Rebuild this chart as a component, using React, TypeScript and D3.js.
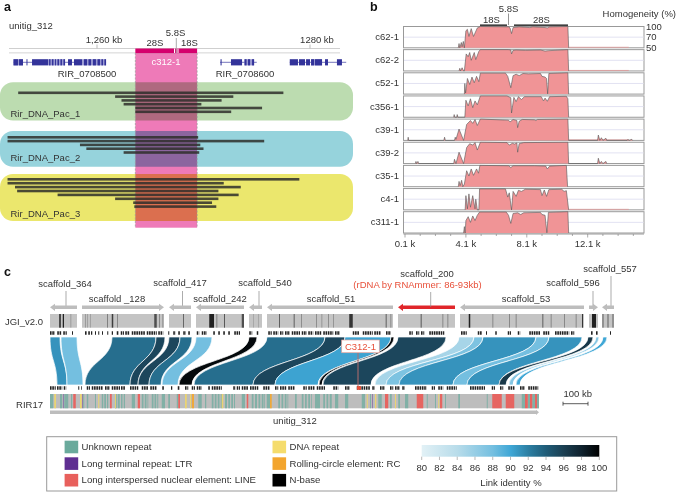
import React from 'react';
import * as d3 from 'd3';

// panel a: reads and genes, all positions in kb on unitig_312
const readsPac1 = [[1252.6, 1277.5], [1261.7, 1272.8], [1262.3, 1271.7], [1262.5, 1269.8], [1263.6, 1275.5], [1263.6, 1272.6]];
const readsPac2 = [[1251.6, 1269.5], [1251.6, 1275.7], [1258.4, 1269.7], [1259, 1270], [1262.5, 1269.6]];
const readsPac3 = [[1251.6, 1279], [1251.6, 1271.9], [1252.3, 1273.5], [1252.5, 1271.4], [1256.3, 1273.3], [1261.7, 1271.4], [1263.4, 1270.8], [1263.5, 1271.2]];
const rdnaSpan = [1263.6, 1269.4];
const geneLines = [[1252.16, 1260.85], [1271.55, 1275], [1278.1, 1283.4]];
const geneShade = [[1252.16, 1253.05], [1255.4, 1257], [1258.6, 1260.85], [1273.85, 1274.75], [1280.1, 1281.13]];
const geneExons = [
  [1252.16, 1252.58], [1252.68, 1253.05], [1253.38, 1253.47], [1253.9, 1255.4], [1255.5, 1255.63], [1255.77, 1255.91],
  [1256.06, 1256.15], [1256.29, 1256.43], [1256.57, 1256.71], [1256.85, 1257], [1257.28, 1257.65], [1257.84, 1258.59],
  [1258.78, 1259.06], [1259.2, 1259.44], [1259.62, 1259.9], [1260.05, 1260.28], [1260.42, 1260.56], [1260.7, 1260.85],
  [1271.6, 1271.7], [1272.58, 1273.62], [1273.85, 1274.04], [1274.18, 1274.37], [1274.56, 1274.75],
  [1278.1, 1278.87], [1278.97, 1279.53], [1279.63, 1280], [1280.1, 1280.38], [1280.47, 1281.13], [1281.41, 1281.69], [1282.53, 1283],
];

// panel b: homogeneity profiles, [position k, percent]
const rowNames = ['c62-1', 'c62-2', 'c52-1', 'c356-1', 'c39-1', 'c39-2', 'c35-1', 'c4-1', 'c311-1'];
const c62_1 = [[3.6, 50], [3.65, 58], [3.7, 50], [3.8, 60], [3.85, 52], [3.93, 62], [4, 50], [4.1, 88], [4.2, 92], [4.3, 72], [4.45, 94], [4.6, 72], [4.85, 96], [5.05, 100], [6.9, 99], [7, 96], [7.1, 80], [7.2, 97], [7.6, 99], [8.3, 97], [8.5, 99], [9.3, 97], [9.45, 96], [9.6, 99], [10.8, 100], [10.85, 50]];
const c62_2 = [[3.65, 50], [3.7, 55], [3.75, 50], [3.85, 56], [3.95, 50], [4, 50], [4.12, 88], [4.25, 80], [4.35, 92], [4.45, 70], [4.65, 92], [4.75, 72], [4.95, 95], [5.05, 100], [6.9, 100], [7.05, 99], [7.1, 88], [7.2, 98], [7.4, 99], [8, 98], [9, 99], [9.3, 96], [9.5, 97], [10.8, 100], [10.85, 50]];
const c52_1 = [[4, 50], [4.03, 70], [4.08, 52], [4.2, 84], [4.35, 68], [4.5, 88], [4.65, 72], [4.8, 90], [4.95, 75], [5.05, 99], [6.7, 99], [6.85, 90], [7.05, 62], [7.2, 92], [7.4, 96], [7.6, 92], [7.85, 98], [8.2, 97], [9, 98], [9.1, 90], [9.3, 88], [9.4, 84], [9.47, 50.5], [9.55, 98], [10.8, 100], [10.85, 50]];
const c356_1 = [[3.3, 50], [3.33, 55], [3.37, 50], [3.5, 50], [3.53, 55], [3.57, 50], [4.03, 50], [4.1, 88], [4.25, 72], [4.4, 92], [4.55, 68], [4.7, 86], [4.85, 75], [5.05, 100], [6.8, 100], [7.05, 95], [7.1, 58], [7.25, 96], [7.4, 84], [7.55, 98], [7.75, 90], [7.95, 98], [9.05, 98], [9.2, 86], [9.3, 94], [9.45, 85], [9.6, 98], [10.7, 99], [10.8, 92], [10.85, 50]];
const c39_1 = [[0.28, 50], [0.31, 56], [0.34, 50], [2.65, 50], [2.7, 56], [2.75, 50], [3.35, 50], [3.4, 56], [3.45, 52], [3.65, 72], [3.95, 50], [4.15, 85], [4.4, 96], [4.55, 88], [4.7, 99], [4.85, 82], [5.05, 100], [6.9, 97], [7, 92], [7.2, 99], [7.45, 96], [7.5, 76], [7.6, 94], [7.8, 99], [8.6, 98], [8.7, 96], [8.8, 99], [10.8, 100], [10.85, 50], [12.75, 50], [12.8, 60], [12.9, 50], [13, 55], [13.1, 50], [13.3, 54], [13.35, 50], [14.7, 50], [14.75, 52], [14.8, 50], [15, 52], [15.05, 50]];
const c39_2 = [[0.78, 50], [0.82, 54], [0.86, 50], [0.95, 54], [1, 50], [3.3, 50], [3.35, 58], [3.45, 50], [3.65, 72], [3.95, 50], [4.15, 85], [4.35, 96], [4.55, 92], [4.7, 99], [4.85, 78], [5.05, 100], [6.8, 99], [6.95, 92], [7.15, 97], [7.3, 95], [7.45, 98], [7.5, 72], [7.6, 96], [7.9, 99], [10.8, 100], [10.85, 50], [12.75, 50], [12.8, 60], [12.9, 50], [13, 54], [13.1, 50], [13.3, 54], [13.35, 50]];
const c35_1 = [[3.6, 50], [3.65, 60], [3.72, 52], [3.82, 62], [3.9, 50], [4, 55], [4.15, 85], [4.3, 70], [4.45, 90], [4.6, 72], [4.8, 90], [4.93, 78], [5.02, 100], [6.9, 99], [7.05, 94], [7.2, 99], [8.6, 99], [9.35, 98], [9.45, 90], [9.6, 98], [10.7, 100], [10.78, 50]];
const c4_1 = [[4.05, 50], [4.1, 80], [4.2, 52], [4.3, 85], [4.4, 55], [4.55, 80], [4.7, 52], [4.75, 70], [4.85, 50], [4.95, 50], [5, 99], [6.7, 99], [6.85, 76], [6.95, 88], [7.1, 50], [7.2, 92], [7.4, 78], [7.55, 95], [7.75, 92], [8, 98], [9, 97], [9.1, 80], [9.25, 96], [9.4, 78], [9.55, 97], [10.4, 98], [10.55, 92], [10.7, 94], [10.85, 50]];
const c311_1 = [[3.95, 50], [4, 62], [4.05, 50], [4.1, 75], [4.25, 86], [4.4, 70], [4.55, 88], [4.7, 75], [4.85, 90], [5, 99], [6.75, 99], [6.9, 90], [7.05, 68], [7.2, 95], [7.5, 97], [7.7, 92], [7.9, 97], [9, 98], [9.1, 92], [9.3, 90], [9.42, 50.5], [9.52, 98], [10.8, 100], [10.85, 50]];
const profiles = [c62_1, c62_2, c52_1, c356_1, c39_1, c39_2, c35_1, c4_1, c311_1];
const tailRows = ['c62-1', 'c62-2', 'c39-1', 'c4-1'];
const positionTicks = [0.1, 1.1, 2.1, 3.1, 4.1, 5.1, 6.1, 7.1, 8.1, 9.1, 10.1, 11.1, 12.1, 13.1, 14.1, 15.1];
const positionLabels = [0.1, 4.1, 8.1, 12.1];
const homogeneityLabels = [100, 70, 50];

// panel c: scaffolds and links, in kb along the shared scale
const scaffoldSpans = [[0, 108, 'L'], [128, 456, 'R'], [476, 564, 'L'], [584, 776, 'L'], [796, 848, 'L'], [868, 1372, 'L'], [1392, 1620, 'L'], [1640, 2136, 'L'], [2156, 2192, 'R'], [2208, 2256, 'L']];
const jgiGaps = [
  [37, 43, 0.9], [51, 56, 0.9], [82, 85, 0.3], [140, 143, 0.3], [149, 152, 0.25], [160, 163, 0.25], [228, 231, 0.5], [247, 253, 0.75], [269, 272, 0.45],
  [417, 427, 0.65], [436, 439, 0.45], [450, 453, 0.4], [532, 535, 0.7], [637, 656, 0.9], [666, 669, 0.5], [696, 699, 0.8], [767, 776, 0.65],
  [813, 816, 0.2], [833, 836, 0.2], [916, 919, 0.75], [975, 978, 0.75], [1005, 1008, 0.4], [1065, 1068, 0.4], [1086, 1089, 0.35], [1112, 1115, 0.4], [1132, 1135, 0.35],
  [1197, 1211, 0.8], [1343, 1346, 0.75], [1362, 1365, 0.45], [1483, 1486, 0.8], [1570, 1573, 0.45], [1590, 1593, 0.45],
  [1675, 1681, 0.9], [1770, 1773, 0.45], [1836, 1839, 0.45], [1863, 1866, 0.45], [1970, 1973, 0.75], [2003, 2006, 0.45], [2057, 2060, 0.45], [2103, 2106, 0.45], [2128, 2132, 0.8],
  [2168, 2184, 0.9], [2210, 2214, 0.55], [2230, 2234, 0.55], [2250, 2254, 0.55],
];
const topNBase = [
  [0, 20], [29, 47], [53, 67], [88, 92], [140, 149], [153, 160], [164, 169], [180, 184], [193, 197], [208, 212], [229, 233], [247, 252], [267, 275], [283, 296], [301, 317],
  [327, 380], [387, 427], [433, 453], [473, 477], [493, 503], [513, 520], [533, 544], [553, 560], [587, 597], [607, 627], [653, 660], [673, 680], [693, 701], [713, 720], [737, 760],
  [797, 809], [827, 833], [873, 887], [893, 913], [920, 933], [940, 960], [967, 1000], [1007, 1027], [1033, 1053], [1060, 1087], [1093, 1133], [1140, 1160],
  [1211, 1237], [1251, 1291], [1297, 1324], [1344, 1364], [1437, 1451], [1464, 1477], [1484, 1497], [1517, 1577], [1644, 1667], [1711, 1728], [1744, 1748], [1781, 1787],
  [1831, 1844], [1871, 1881], [1917, 1960], [1973, 1997], [2020, 2077], [2084, 2097], [2164, 2171], [2184, 2191], [2240, 2244],
];
const bottomNBase = [
  [0, 23], [28, 49], [55, 65], [113, 117], [124, 127], [147, 160], [167, 213], [220, 240], [247, 280], [284, 300], [320, 353], [367, 393], [401, 427], [449, 456], [484, 489],
  [511, 520], [540, 553], [567, 580], [587, 607], [633, 640], [647, 687], [733, 743], [747, 760], [767, 793], [800, 833], [853, 880], [900, 913], [920, 947], [953, 980],
  [1013, 1027], [1033, 1060], [1067, 1100], [1133, 1153], [1180, 1200], [1227, 1280], [1289, 1300], [1320, 1340], [1360, 1373], [1380, 1400], [1409, 1420], [1460, 1507],
  [1527, 1540], [1553, 1573], [1587, 1627], [1680, 1740], [1767, 1780], [1800, 1813], [1833, 1860], [1880, 1900], [1913, 1953],
];
// top start, top end, bottom start, bottom end, identity %
const links = [
  [0, 40, 28, 68, 91], [44, 108, 68, 132, 88], [248, 424, 140, 320, 93], [424, 460, 320, 352, 95.5], [476, 520, 352, 396, 95.5], [520, 568, 396, 444, 93],
  [584, 648, 448, 512, 88], [796, 828, 516, 568, 99.5], [868, 1100, 576, 812, 93], [1100, 1180, 812, 900, 95.5], [1180, 1364, 900, 1072, 90.2], [1364, 1376, 1076, 1088, 99.5],
  [1392, 1584, 1092, 1284, 95.5], [1636, 1696, 1300, 1344, 85], [1696, 1732, 1344, 1396, 87.5], [1732, 1944, 1396, 1612, 91], [1944, 1996, 1612, 1668, 88], [1996, 2128, 1668, 1796, 91],
  [2152, 2172, 1796, 1824, 96.5], [2184, 2196, 1836, 1852, 87], [2212, 2228, 1864, 1880, 90],
];
const repeatUnknown = [
  [0, 13], [40, 49], [57, 73], [84, 89], [133, 137], [147, 153], [180, 184], [207, 213], [217, 224], [228, 233], [260, 267], [271, 279], [284, 290], [295, 300], [327, 340],
  [367, 374], [379, 386], [390, 393], [407, 414], [418, 425], [429, 433], [447, 460], [473, 480], [507, 513], [593, 607], [620, 625],
  [647, 654], [659, 666], [671, 678], [683, 687], [700, 708], [713, 720], [725, 732], [736, 740], [767, 780], [807, 814], [820, 828], [834, 841], [847, 854], [857, 860], [867, 880],
  [913, 920], [926, 933], [939, 946], [950, 953], [980, 987], [1007, 1014], [1020, 1027], [1033, 1040], [1044, 1047], [1060, 1080], [1093, 1100], [1106, 1113], [1119, 1127],
  [1140, 1153], [1180, 1193], [1247, 1260], [1280, 1284], [1313, 1327], [1360, 1367], [1393, 1400], [1420, 1433], [1507, 1511], [1540, 1544], [1580, 1584], [1633, 1640], [1747, 1751],
  [1887, 1900], [1911, 1920], [1929, 1940], [1948, 1956],
];
const repeatLine = [[93, 103], [240, 247], [351, 360], [513, 520], [787, 793], [1340, 1353], [1467, 1493], [1560, 1569], [1769, 1807], [1823, 1857], [1900, 1911], [1920, 1929], [1940, 1948]];
const repeatDna = [[17, 24], [120, 127], [193, 197], [260, 264], [540, 547], [560, 564], [687, 693], [1267, 1271], [1300, 1305], [1380, 1384], [1553, 1557]];
const repeatRc = [[567, 576], [880, 887]];
const repeatLtr = [[53, 56], [129, 132], [1289, 1292]];
const identityTicks = [80, 82, 84, 86, 88, 90, 92, 94, 96, 98, 100];
const identityStops = [80, 84, 88, 90, 92, 94, 96, 98, 100];
const identityColors = ['#e2f1f6', '#b8dcea', '#74bfe0', '#3fa7d6', '#2c7fa3', '#1f5c78', '#1b3f52', '#0f222e', '#000000'];

const legendLeft = [
  ['Unknown repeat', '#6aaa9c'],
  ['Long terminal repeat: LTR', '#5f2f92'],
  ['Long interspersed nuclear element: LINE', '#e8605c'],
];
const legendMid = [
  ['DNA repeat', '#f5dc6c'],
  ['Rolling-circle element: RC', '#f3a52e'],
  ['N-base', '#000000'],
];

const FONT = '"Liberation Sans", Arial, sans-serif';
const INK = '#333';

export default function App() {
  // panel a
  const xA = d3.scaleLinear().domain([1260, 1280]).range([97, 310]);
  const bands = [
    { name: 'Rir_DNA_Pac_1', top: 82.3, bottom: 120.6, fill: '#bcdcb0', reads: readsPac1, firstY: 92.8, step: 3.8, labelY: 117 },
    { name: 'Rir_DNA_Pac_2', top: 131, bottom: 166.7, fill: '#96d3dc', reads: readsPac2, firstY: 137.3, step: 3.8, labelY: 161 },
    { name: 'Rir_DNA_Pac_3', top: 174, bottom: 221, fill: '#ebe76d', reads: readsPac3, firstY: 179.3, step: 3.9, labelY: 217 },
  ];

  // panel b
  const xB = d3.scaleLinear().domain([0.1, 15.8]).range([405, 644]);
  const rowBand = d3.scaleBand().domain(rowNames).range([26.5, 233]).paddingInner(0.08);
  const h = rowBand.bandwidth();
  const yRow = d3.scaleLinear().domain([50, 70, 100]).range([h, h / 2, 0]);
  const profileArea = d3.area().x((d) => xB(d[0])).y0(yRow(50)).y1((d) => yRow(d[1]));
  const profileLine = d3.line().x((d) => xB(d[0])).y((d) => yRow(d[1]));

  // panel c
  const xC = d3.scaleLinear().domain([0, 1956]).range([50, 539]);
  const identity = d3.scaleLinear().domain(identityStops).range(identityColors);
  const linkGen = d3.linkVertical().x((d) => d[0]).y((d) => d[1]);
  const linkTop = 337;
  const linkBottom = 385;
  const ribbon = (l) => {
    const a = linkGen({ source: [xC(l[0]), linkTop], target: [xC(l[2]), linkBottom] });
    const b = linkGen({ source: [xC(l[3]), linkBottom], target: [xC(l[1]), linkTop] });
    return a + b.replace('M', 'L') + 'Z';
  };
  const arrow = (x0, x1, y, dir, half = 1.7, head = 3.6, len = 5) => {
    const p = d3.path();
    if (dir === 'L') {
      p.moveTo(x0, y);
      p.lineTo(x0 + len, y - head);
      p.lineTo(x0 + len, y - half);
      p.lineTo(x1, y - half);
      p.lineTo(x1, y + half);
      p.lineTo(x0 + len, y + half);
      p.lineTo(x0 + len, y + head);
    } else {
      p.moveTo(x1, y);
      p.lineTo(x1 - len, y - head);
      p.lineTo(x1 - len, y - half);
      p.lineTo(x0, y - half);
      p.lineTo(x0, y + half);
      p.lineTo(x1 - len, y + half);
      p.lineTo(x1 - len, y + head);
    }
    p.closePath();
    return p.toString();
  };
  const xBar = d3.scaleLinear().domain([80, 100]).range([421.7, 599.3]);
  const repeats = [
    [repeatUnknown, '#6aaa9c', 0.72],
    [repeatLine, '#e8605c', 0.95],
    [repeatDna, '#f0d668', 0.9],
    [repeatRc, '#f3a52e', 0.9],
    [repeatLtr, '#5f2f92', 0.6],
  ];
  const scaffoldLabels = [
    ['scaffold_364', 65, 287, 66, 291],
    ['scaffold _128', 117, 302],
    ['scaffold_417', 180, 286, 182.5, 291],
    ['scaffold_242', 220, 302],
    ['scaffold_540', 265, 286, 259, 291],
    ['scaffold_51', 331, 302],
    ['scaffold_200', 427, 277],
    ['scaffold_53', 526, 302],
    ['scaffold_596', 573, 286, 593, 291],
    ['scaffold_557', 610, 271.5, 611, 276],
  ];
  const nBaseRow = (spans, y) => spans.map((t) => (
    <line key={t[0]} x1={xC(t[0])} x2={xC(t[1])} y1={y} y2={y} stroke="#222" strokeWidth={3.6} strokeDasharray="1.6 0.7" />
  ));

  return (
    <svg width={676} height={492} style={{ position: 'absolute', left: 0, top: 0, background: '#fff' }} fontFamily={FONT} fontSize={9.5} fill={INK}>
      <defs>
        <linearGradient id="identityBar">
          {identityStops.map((s, i) => (
            <stop key={s} offset={`${(s - 80) * 5}%`} stopColor={identityColors[i]} />
          ))}
        </linearGradient>
      </defs>

      {/* a */}
      <text x={4} y={11} fontSize={12.5} fontWeight="bold" fill="#111">a</text>
      <text x={9} y={29}>unitig_312</text>
      <line x1={9} x2={340} y1={48.5} y2={48.5} stroke="#cfcfcf" />
      <rect x={9} y={52} width={331} height={1.6} fill="#e4e4e4" />
      {[[1260, '1,260 kb'], [1280, '1280 kb']].map(([kb, label]) => (
        <g key={kb}>
          <line x1={xA(kb)} x2={xA(kb)} y1={44.5} y2={48.5} stroke="#bbb" />
          <text x={xA(kb) + 7} y={43} textAnchor="middle">{label}</text>
        </g>
      ))}
      <g stroke="#3a3aa0" strokeWidth={0.7}>
        {geneLines.map((g) => <line key={g[0]} x1={xA(g[0])} x2={xA(g[1])} y1={62.3} y2={62.3} />)}
      </g>
      <g fill="#9a9ad2">
        {geneShade.map((e) => <rect key={e[0]} x={xA(e[0])} y={59.2} width={xA(e[1]) - xA(e[0])} height={6.2} />)}
      </g>
      <g fill="#33339a">
        {geneExons.map((e) => <rect key={e[0]} x={xA(e[0])} y={59.2} width={xA(e[1]) - xA(e[0])} height={6.2} />)}
      </g>
      <text x={87} y={77} textAnchor="middle">RIR_0708500</text>
      <text x={245} y={77} textAnchor="middle">RIR_0708600</text>
      {bands.map((b) => (
        <rect key={b.name} x={0} y={b.top} width={353} height={b.bottom - b.top} rx={13} fill={b.fill} />
      ))}
      <rect x={xA(rdnaSpan[0])} y={53} width={xA(rdnaSpan[1]) - xA(rdnaSpan[0])} height={174.7} fill="#ee7ab8" style={{ mixBlendMode: 'multiply' }} />
      {rdnaSpan.map((kb) => (
        <line key={kb} x1={xA(kb)} x2={xA(kb)} y1={53} y2={228} stroke="#999" strokeWidth={0.7} strokeDasharray="2 1.5" />
      ))}
      <rect x={xA(rdnaSpan[0])} y={48.5} width={xA(rdnaSpan[1]) - xA(rdnaSpan[0])} height={4.5} fill="#d5006d" />
      <rect x={174} y={48.5} width={1} height={4.5} fill="#fff" />
      <rect x={177.5} y={48.5} width={1} height={4.5} fill="#fff" />
      <line x1={176.3} x2={176.3} y1={38} y2={53} stroke="#aaa" />
      <text x={155} y={46} textAnchor="middle">28S</text>
      <text x={175.5} y={36} textAnchor="middle">5.8S</text>
      <text x={189.5} y={46} textAnchor="middle">18S</text>
      <text x={166} y={65} textAnchor="middle" fill="#fff">c312-1</text>
      {bands.map((b) => (
        <g key={b.name}>
          {b.reads.map((r, i) => (
            <rect key={i} x={xA(r[0])} y={b.firstY + i * b.step - 1.3} width={xA(r[1]) - xA(r[0])} height={2.6} fill="#2e2e2a" opacity={0.85} />
          ))}
          <text x={10.5} y={b.labelY}>{b.name}</text>
        </g>
      ))}

      {/* b */}
      <text x={370} y={11} fontSize={12.5} fontWeight="bold" fill="#111">b</text>
      <text x={508.5} y={11.5} textAnchor="middle">5.8S</text>
      <line x1={508.5} x2={508.5} y1={13.5} y2={25} stroke="#666" strokeWidth={0.7} />
      <text x={491.5} y={22.5} textAnchor="middle">18S</text>
      <text x={541.5} y={22.5} textAnchor="middle">28S</text>
      <rect x={480} y={24.5} width={27} height={1.3} fill="#111" />
      <rect x={514} y={24.5} width={54} height={1.3} fill="#111" />
      <text x={676} y={17} textAnchor="end">Homogeneity (%)</text>
      {homogeneityLabels.map((v) => (
        <text key={v} x={646} y={rowBand('c62-1') + yRow(v) + 3}>{v}</text>
      ))}
      {rowNames.map((name, i) => (
        <g key={name} transform={`translate(0,${rowBand(name)})`}>
          <rect x={403.5} y={0} width={240.5} height={h} fill="#fff" stroke="#999" />
          <line x1={404} x2={643.5} y1={yRow(70)} y2={yRow(70)} stroke="#e2e2f2" />
          {tailRows.includes(name) && (
            <line x1={xB(10.85)} x2={xB(14.8)} y1={yRow(50) - 0.5} y2={yRow(50) - 0.5} stroke="#d9a0a0" />
          )}
          <path d={profileArea(profiles[i])} fill="#f09496" />
          <path d={profileLine(profiles[i])} fill="none" stroke="#555" strokeWidth={0.6} />
          <text x={399} y={h / 2 + 3} textAnchor="end">{name}</text>
        </g>
      ))}
      <line x1={403.5} x2={644} y1={234} y2={234} stroke="#999" />
      {positionTicks.map((k) => (
        <line key={k} x1={xB(k)} x2={xB(k)} y1={234} y2={positionLabels.includes(k) ? 237.5 : 236} stroke="#888" strokeWidth={0.7} />
      ))}
      {positionLabels.map((k) => (
        <text key={k} x={xB(k)} y={247} textAnchor="middle">{k} k</text>
      ))}

      {/* c */}
      <text x={4} y={276} fontSize={12.5} fontWeight="bold" fill="#111">c</text>
      {scaffoldLabels.map(([label, x, y, lx, ly]) => (
        <g key={label}>
          <text x={x} y={y} textAnchor="middle">{label}</text>
          {lx !== undefined && <line x1={lx} x2={lx} y1={ly} y2={307} stroke="#888" strokeWidth={0.7} />}
        </g>
      ))}
      <text x={417.5} y={287.7} textAnchor="middle" fill="#e8503a">(rDNA by RNAmmer: 86-93kb)</text>
      {scaffoldSpans.map((s) => (
        <path key={s[0]} d={arrow(xC(s[0]), xC(s[1]), 307.3, s[2])} fill={s[0] === 1392 ? '#e0262a' : '#bdbdbd'} />
      ))}
      <line x1={430.7} x2={430.7} y1={292} y2={307} stroke="#888" strokeWidth={0.7} />
      <text x={43} y={325} textAnchor="end">JGI_v2.0</text>
      {scaffoldSpans.map((s) => (
        <rect key={s[0]} x={xC(s[0])} y={314} width={xC(s[1]) - xC(s[0])} height={13.7} fill="#c4c4c4" />
      ))}
      {jgiGaps.map((g) => (
        <rect key={g[0]} x={xC(g[0])} y={314} width={xC(g[1]) - xC(g[0])} height={13.7} fill="#111" opacity={g[2]} />
      ))}
      {nBaseRow(topNBase, 333)}
      {links.map((l) => (
        <path key={l[0]} d={ribbon(l)} fill={identity(l[4])} stroke="#fff" strokeWidth={0.7} />
      ))}
      <line x1={358} x2={358} y1={352} y2={388} stroke="#b56d6d" />
      <rect x={341.7} y={340} width={37.6} height={12.7} fill="#fff" stroke="#e9a29a" strokeWidth={0.7} />
      <text x={360.5} y={349.8} textAnchor="middle" fill="#e8503a">C312-1</text>
      {nBaseRow(bottomNBase, 388)}
      <rect x={xC(1228)} y={386.2} width={xC(1244) - xC(1228)} height={3.6} fill="#e8503a" />
      <text x={43} y={407.7} textAnchor="end">RIR17</text>
      <rect x={xC(0)} y={394} width={xC(1956) - xC(0)} height={14.3} fill="#bdbdbd" />
      {repeats.map(([spans, color, alpha]) => spans.map((r) => (
        <rect key={`${color}${r[0]}`} x={xC(r[0])} y={394} width={xC(r[1]) - xC(r[0])} height={14.3} fill={color} opacity={alpha} />
      )))}
      <path d={arrow(xC(0), xC(1956), 412.3, 'R', 1.7, 2.6, 3)} fill="#bdbdbd" />
      <text x={295} y={424} textAnchor="middle">unitig_312</text>
      <text x={577.7} y={397.3} textAnchor="middle">100 kb</text>
      <path d={`M${xC(1944) + 27},403.7H${xC(1944) + 52}M${xC(1944) + 27},401.7V405.7M${xC(1944) + 52},401.7V405.7`} stroke="#333" strokeWidth={0.8} fill="none" />

      {/* legend */}
      <rect x={46.7} y={436.7} width={570} height={54.3} fill="#fff" stroke="#999" />
      {legendLeft.map(([label, color], i) => (
        <g key={label} transform={`translate(64.6,${440.7 + i * 16.6})`}>
          <rect width={13.6} height={12.6} fill={color} />
          <text x={17} y={9.5} fontSize={9.6}>{label}</text>
        </g>
      ))}
      {legendMid.map(([label, color], i) => (
        <g key={label} transform={`translate(272.5,${440.7 + i * 16.6})`}>
          <rect width={13.6} height={12.6} fill={color} />
          <text x={17} y={9.5} fontSize={9.6}>{label}</text>
        </g>
      ))}
      <rect x={xBar(80)} y={445} width={xBar(100) - xBar(80)} height={11.7} fill="url(#identityBar)" />
      {identityTicks.map((t) => (
        <g key={t}>
          <line x1={xBar(t)} x2={xBar(t)} y1={456.7} y2={460} stroke="#999" strokeWidth={0.7} />
          <text x={xBar(t)} y={471} textAnchor="middle">{t}</text>
        </g>
      ))}
      <text x={511} y={486} textAnchor="middle">Link identity %</text>
    </svg>
  );
}
